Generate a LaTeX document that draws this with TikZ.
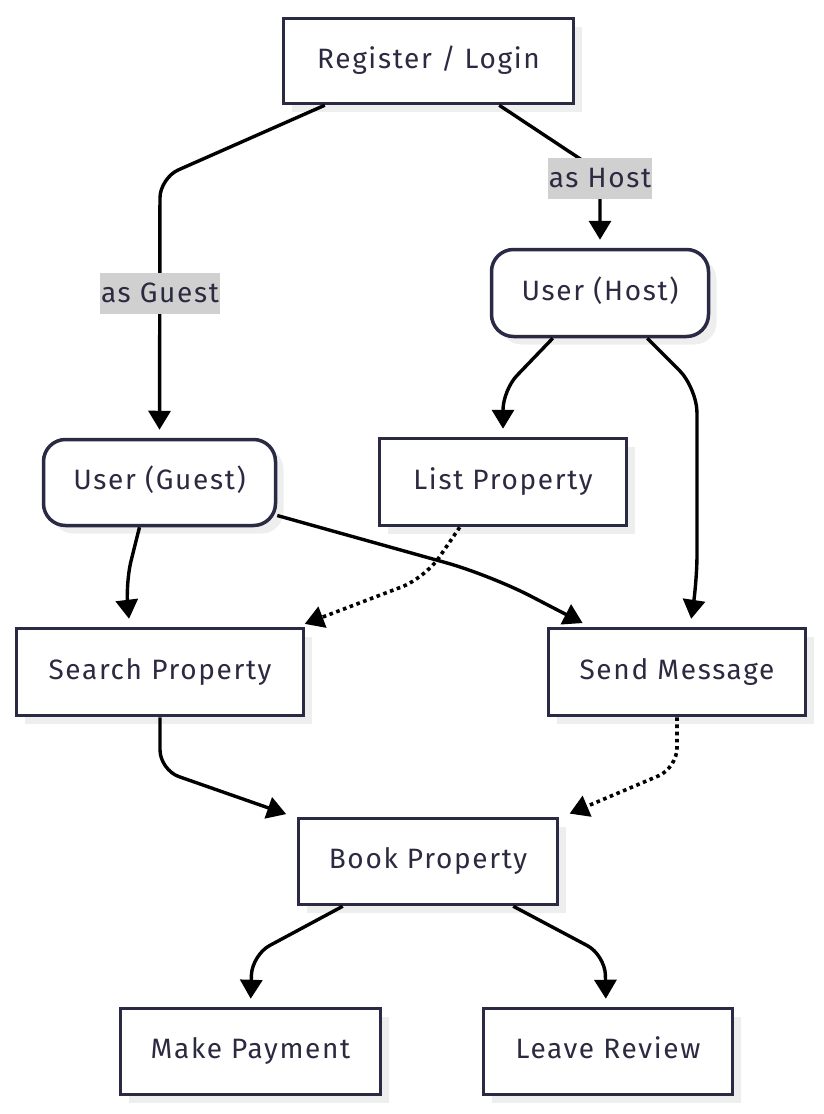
\documentclass[tikz,border=0pt]{standalone}
\usepackage{fontspec}
\setmainfont{Fira Sans}[LetterSpace=6]
\usetikzlibrary{arrows.meta,calc,shadows}
\definecolor{bordc}{HTML}{2B2A45}
\definecolor{txtc}{HTML}{2B2A40}
\definecolor{shad}{HTML}{EEEEEE}
\definecolor{lblbg}{HTML}{D0D0D0}
\tikzset{
  box/.style={draw=bordc, line width=3.5pt, fill=white, inner sep=0pt,
    font=\fontsize{28}{32}\selectfont, text=txtc, text height=20pt, text depth=6pt,
    drop shadow={shadow xshift=8pt, shadow yshift=-8pt, fill=shad, opacity=1}},
  rbox/.style={box, rounded corners=22pt},
  arr/.style={draw=black, line width=3.4pt, -{Triangle[width=22pt,length=19pt]}, shorten >=8pt},
  dotarr/.style={arr, line width=3.6pt, dash pattern=on 3.6pt off 3.6pt},
  lbl/.style={fill=lblbg, sharp corners, inner xsep=1pt, inner ysep=0pt, font=\fontsize{28}{32}\selectfont, text=txtc, minimum height=41pt}
}
\begin{document}
\begin{tikzpicture}[x=1pt,y=-1pt]
\useasboundingbox (0,0) rectangle (823,1114);
\node[box, minimum width=290pt, minimum height=85pt] (reg) at (428.5,61) {Register / Login};
\node[rbox, minimum width=217pt, minimum height=87pt] (host) at (600,293) {User (Host)};
\node[rbox, minimum width=232pt, minimum height=86pt] (gst) at (159.5,482.5) {User (Guest)};
\node[box, minimum width=247pt, minimum height=87pt] (lst) at (503,482) {List Property};
\node[box, minimum width=287pt, minimum height=87pt] (srch) at (160,672) {Search Property};
\node[box, minimum width=257pt, minimum height=87pt] (snd) at (677,672) {Send Message};
\node[box, minimum width=259pt, minimum height=86pt] (bk) at (428,861.5) {Book Property};
\node[box, minimum width=260pt, minimum height=86pt] (mp) at (250.5,1051.5) {Make Payment};
\node[box, minimum width=249pt, minimum height=86pt] (lr) at (608,1051.5) {Leave Review};

\draw[arr, rounded corners=20pt] ($(reg.south west)+(43,0)$) -- (160,178) -- (gst.north);
\node[lbl] (lg) at (160,293) {as Guest};
\draw[arr, rounded corners=20pt] ($(reg.south east)+(-76,0)$) -- (600,172) -- (host.north);
\node[lbl] (lh) at (600,178) {as Host};
\draw[arr, rounded corners=20pt] ($(host.south west)+(63,0)$) -- (503,390) -- (lst.north);
\draw[arr, rounded corners=25pt] ($(host.south east)+(-63,0)$) -- (697,388) -- (697,580) -- ($(snd.north)+(13,0)$);
\draw[arr, rounded corners=25pt] ($(gst.south)+(-20,0)$) -- (125,585) -- ($(srch.north)+(-30,0)$);
\draw[arr, rounded corners=45pt] ($(gst.east)+(0,33)$) -- (490,575) -- ($(snd.north west)+(43,0)$);
\draw[dotarr, rounded corners=25pt] ($(lst.south west)+(82,0)$) -- (425,578) -- ($(srch.north east)+(-8,0)$);
\draw[arr, rounded corners=20pt] (srch.south) -- (160,770) -- ($(bk.north west)+(-3,0)$);
\draw[dotarr, rounded corners=20pt] (snd.south) -- (677,768) -- ($(bk.north east)+(3,0)$);
\draw[arr, rounded corners=20pt] ($(bk.south west)+(46,0)$) -- (252,955) -- (mp.north);
\draw[arr, rounded corners=20pt] ($(bk.south east)+(-46,0)$) -- (605,955) -- ($(lr.north)+(-2,0)$);
\end{tikzpicture}
\end{document}
